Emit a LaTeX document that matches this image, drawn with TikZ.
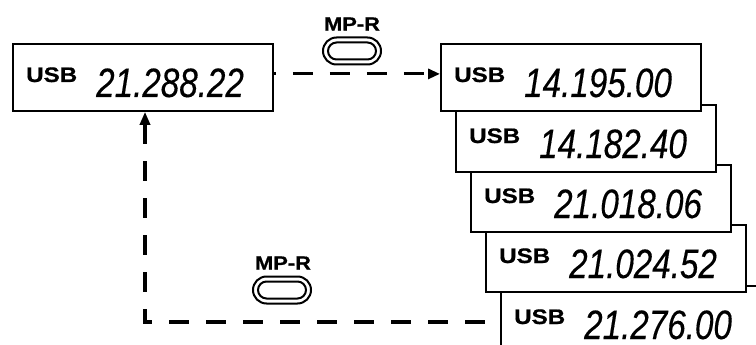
\documentclass[tikz,border=0pt]{standalone}
\usepackage{fontspec}
\setmainfont{Liberation Sans}
\newfontfamily\numfont[FakeStretch=0.81,FakeBold=0.3]{Liberation Sans}
\newfontfamily\lblfont[FakeStretch=1.15,FakeBold=0.8]{Liberation Sans}
\usetikzlibrary{arrows.meta,calc}
\tikzset{
  ubox/.style={draw, fill=white, line width=1.8pt, minimum width=260pt, minimum height=67pt, inner sep=0pt, anchor=north west},
  usbtxt/.style={anchor=base west, inner sep=0pt, text depth=0pt, font=\lblfont\bfseries\fontsize{21}{21}\selectfont},
  numtxt/.style={anchor=base west, inner sep=0pt, text depth=0pt, font=\numfont\itshape\fontsize{41}{41}\selectfont},
  btnout/.style={draw, line width=2pt, minimum width=58pt, minimum height=27pt, rounded corners=13.5pt, inner sep=0pt},
  btnin/.style={draw, line width=2pt, minimum width=48pt, minimum height=17pt, rounded corners=8.5pt, inner sep=0pt},
  btnlbl/.style={inner sep=0pt, font=\lblfont\bfseries\fontsize{19}{19}\selectfont},
  dashline/.style={line width=3.2pt, dash pattern=on 20pt off 17pt},
  tip/.style={-{Triangle[length=12pt,width=10pt]}}
}
\newcommand{\usbbox}[4]{%
  \node[ubox] (#1) at (#2,#3) {};
  \node[usbtxt] (#1u) at ($(#1.north west)+(14,39)$) {USB};
  \node[numtxt] (#1n) at ($(#1.north west)+(84,54)$) {#4};
}
\begin{document}
\begin{tikzpicture}[x=1pt,y=-1pt]
\useasboundingbox (0,0) rectangle (756,345);
\clip (0,0) rectangle (756,345);
% main box
\usbbox{b0}{12}{43}{21.288.22}
% stacked boxes
\usbbox{b5}{500}{285}{21.276.00}
\usbbox{b4}{485}{224}{21.024.52}
\usbbox{b3}{470}{164}{21.018.06}
\usbbox{b2}{455}{104}{14.182.40}
\usbbox{b1}{440}{43}{14.195.00}
% buttons
\node[btnlbl] (l1) at (352,24) {MP-R};
\node[btnout] (m1o) at (352,51) {};
\node[btnin] (m1i) at (352,51) {};
\node[btnlbl] (l2) at (283,263) {MP-R};
\node[btnout] (m2o) at (282,290) {};
\node[btnin] (m2i) at (282,290) {};
% connectors
\draw[dashline, dash phase=18pt, tip] ([yshift=3.5pt]b0.east) -- ([yshift=3.5pt]b1.west);
\coordinate (corner) at (145,322);
\draw[dashline, {Triangle[length=13pt,width=10pt]}-] (b0.south -| corner) -- (corner) -- (corner -| b5.west);
\end{tikzpicture}
\end{document}
